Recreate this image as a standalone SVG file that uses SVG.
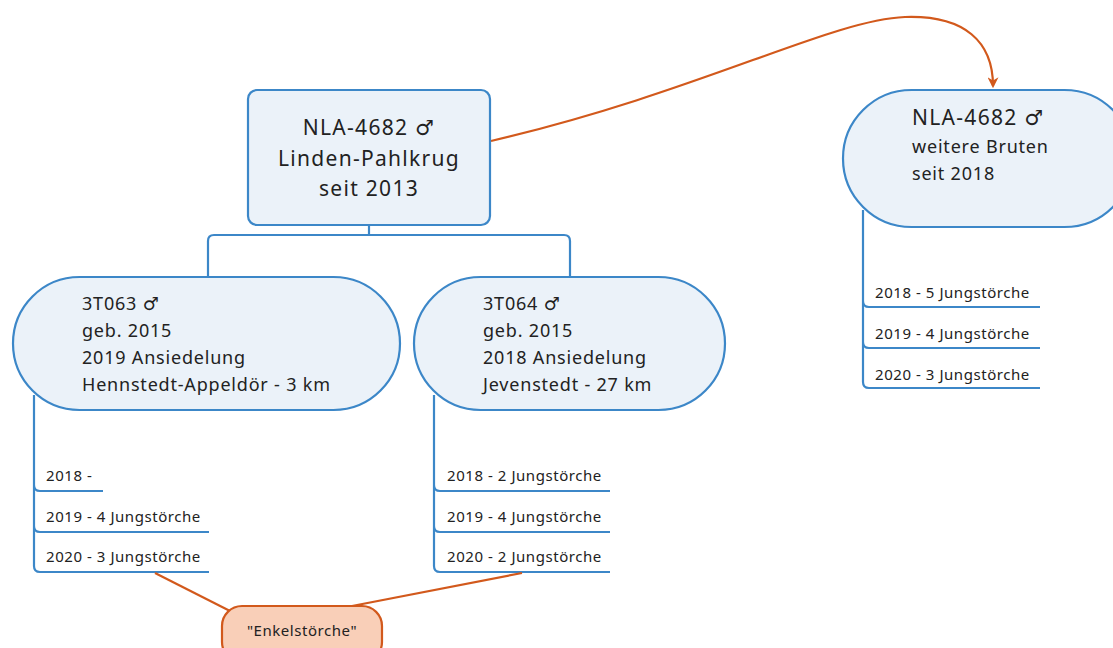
<svg xmlns="http://www.w3.org/2000/svg" width="1113" height="648" viewBox="0 0 1113 648">
  <style>
    .topic { fill: #ebf2f9; stroke: #3c87c8; stroke-width: 2.2; }
    .branch { fill: none; stroke: #3c87c8; stroke-width: 2.2; }
    .rel { fill: none; stroke: #d2591c; stroke-width: 2.2; }
    .note { fill: #f9cfb8; stroke: #d2591c; stroke-width: 2.2; }
    text { font-family: "Noto Sans", "Open Sans", "DejaVu Sans", sans-serif; fill: #222; }
    .big { font-size: 21px; letter-spacing: 1.3px; }
    .mid { font-size: 18px; letter-spacing: 0.8px; }
    .small { font-size: 15px; letter-spacing: 0.55px; }
  </style>
  <defs>
    <marker id="arrow" viewBox="0 0 10 10" refX="8" refY="5" markerWidth="5" markerHeight="5" orient="auto">
      <path d="M0,0 L10,5 L0,10 L3,5 Z" fill="#d2591c"/>
    </marker>
  </defs>
  <rect width="1113" height="648" fill="#ffffff"/>

  <g id="connectors">
    <!-- root to children -->
    <path class="branch" d="M369,225 V235 M208,277 V241 Q208,235 214,235 H564 Q570,235 570,241 V277"/>
    <!-- left child sub-items -->
    <path class="branch" d="M34,395 V485 Q34,491 40,491 H103 M34,485 V526 Q34,532 40,532 H209 M34,526 V566 Q34,572 40,572 H209"/>
    <!-- middle child sub-items -->
    <path class="branch" d="M434,395 V485 Q434,491 440,491 H610 M434,485 V526 Q434,532 440,532 H610 M434,526 V566 Q434,572 440,572 H610"/>
    <!-- right node sub-items -->
    <path class="branch" d="M863,210 V301 Q863,307 869,307 H1040 M863,301 V342 Q863,348 869,348 H1040 M863,342 V382 Q863,388 869,388 H1040"/>
    <!-- relationship arrow -->
    <path class="rel" marker-end="url(#arrow)" d="M491,141 C700,92 830,20 905,17 C965,15 993,42 993,86"/>
    <!-- note links -->
    <path class="rel" d="M155,573 L232,612"/>
    <path class="rel" d="M522,573 L352,606"/>
  </g>

  <g id="root">
    <rect class="topic" x="248" y="90" width="242" height="135" rx="9"/>
    <text class="big" x="369" y="135" text-anchor="middle">NLA-4682 ♂</text>
    <text class="big" x="369" y="166" text-anchor="middle">Linden-Pahlkrug</text>
    <text class="big" x="369" y="196" text-anchor="middle">seit 2013</text>
  </g>

  <g id="child-3T063">
    <rect class="topic" x="13" y="277" width="387" height="133" rx="66.5"/>
    <text class="mid" x="82" y="310">3T063 ♂</text>
    <text class="mid" x="82" y="337">geb. 2015</text>
    <text class="mid" x="82" y="364">2019 Ansiedelung</text>
    <text class="mid" x="82" y="391">Hennstedt-Appeldör - 3 km</text>
  </g>

  <g id="child-3T064">
    <rect class="topic" x="414" y="277" width="311" height="133" rx="66.5"/>
    <text class="mid" x="483" y="310">3T064 ♂</text>
    <text class="mid" x="483" y="337">geb. 2015</text>
    <text class="mid" x="483" y="364">2018 Ansiedelung</text>
    <text class="mid" x="483" y="391">Jevenstedt - 27 km</text>
  </g>

  <g id="further-broods">
    <rect class="topic" x="843" y="90" width="290" height="137" rx="68.5"/>
    <text class="big" x="912" y="125">NLA-4682 ♂</text>
    <text class="mid" x="912" y="153">weitere Bruten</text>
    <text class="mid" x="912" y="180">seit 2018</text>
  </g>

  <g id="items-3T063">
    <text class="small" x="46" y="481">2018 -</text>
    <text class="small" x="46" y="522">2019 - 4 Jungstörche</text>
    <text class="small" x="46" y="562">2020 - 3 Jungstörche</text>
  </g>

  <g id="items-3T064">
    <text class="small" x="447" y="481">2018 - 2 Jungstörche</text>
    <text class="small" x="447" y="522">2019 - 4 Jungstörche</text>
    <text class="small" x="447" y="562">2020 - 2 Jungstörche</text>
  </g>

  <g id="items-further">
    <text class="small" x="875" y="298">2018 - 5 Jungstörche</text>
    <text class="small" x="875" y="339">2019 - 4 Jungstörche</text>
    <text class="small" x="875" y="380">2020 - 3 Jungstörche</text>
  </g>

  <g id="grandchildren">
    <rect class="note" x="222" y="606" width="160" height="56" rx="20"/>
    <text class="small" x="302" y="636" text-anchor="middle">"Enkelstörche"</text>
  </g>
</svg>
